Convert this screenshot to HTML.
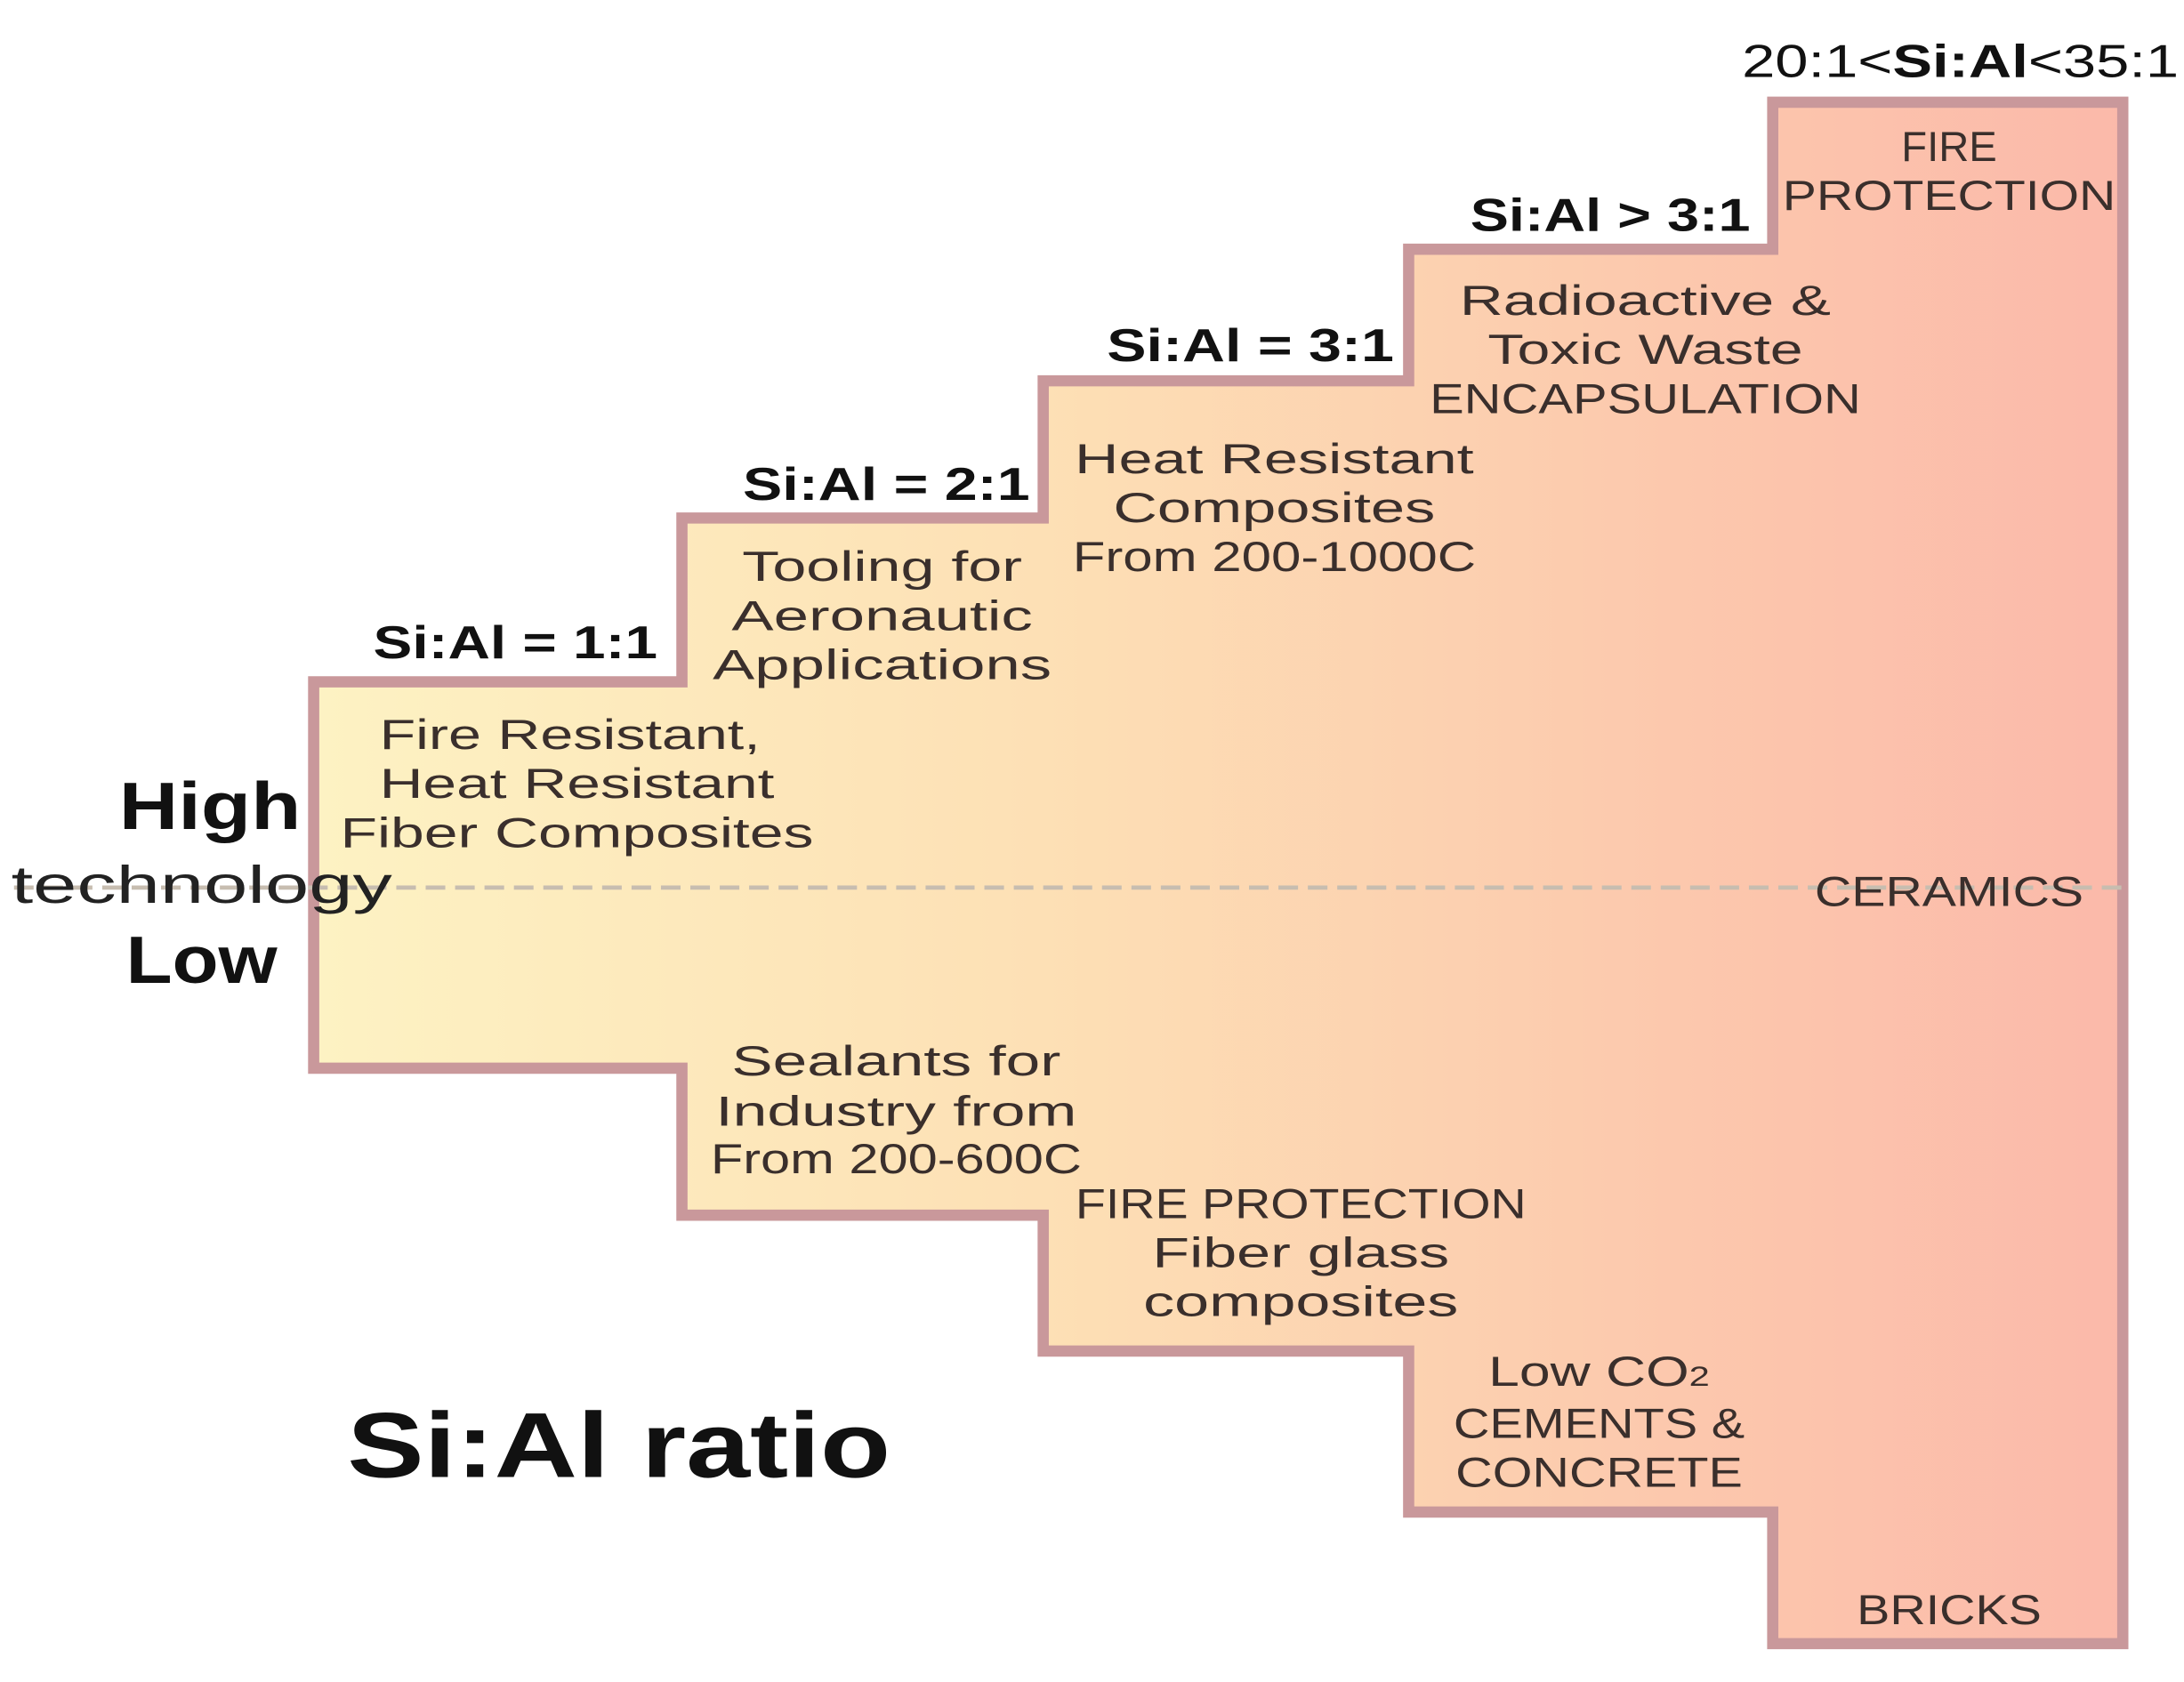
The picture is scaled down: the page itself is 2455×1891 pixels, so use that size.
<!DOCTYPE html>
<html><head><meta charset="utf-8"><style>
html,body{margin:0;padding:0;background:#fff;}
svg{display:block;}
text{font-family:"Liberation Sans",sans-serif;}
.b{fill:#3a2f2c;font-size:30px;text-anchor:middle;}
.l{fill:#111;font-size:33px;font-weight:bold;text-anchor:middle;}
</style></head><body>
<svg width="2455" height="1891" viewBox="0 0 1559.7 1201.4" xmlns="http://www.w3.org/2000/svg">
<defs>
<linearGradient id="g" x1="225" y1="0" x2="1518" y2="0" gradientUnits="userSpaceOnUse">
<stop offset="0" stop-color="#fdf2c3"/>
<stop offset="0.4" stop-color="#fde0b5"/>
<stop offset="0.75" stop-color="#fcc8ad"/>
<stop offset="1" stop-color="#fbb9aa"/>
</linearGradient>
</defs>
<polygon points="224,487 487,487 487,370 745,370 745,272 1006,272 1006,178 1266,178 1266,73 1516,73 1516,1174 1266,1174 1266,1080 1006,1080 1006,965 745,965 745,868 487,868 487,763 224,763" fill="url(#g)" stroke="#c9989b" stroke-width="8"/>
<line x1="10" y1="634" x2="1516" y2="634" stroke="#c7bdb0" stroke-width="3" stroke-dasharray="14,7"/>

<text x="1400" y="55" style="font-size:33px;fill:#111;text-anchor:middle" textLength="312" lengthAdjust="spacingAndGlyphs">20:1&lt;<tspan font-weight="bold">Si:Al</tspan>&lt;35:1</text>
<text class="l" x="1150" y="165" textLength="200" lengthAdjust="spacingAndGlyphs">Si:Al &gt; 3:1</text>
<text class="l" x="893" y="258" textLength="205" lengthAdjust="spacingAndGlyphs">Si:Al = 3:1</text>
<text class="l" x="633" y="357" textLength="205" lengthAdjust="spacingAndGlyphs">Si:Al = 2:1</text>
<text class="l" x="368" y="470" textLength="203" lengthAdjust="spacingAndGlyphs">Si:Al = 1:1</text>

<text class="b" x="1392" y="115">FIRE</text>
<text class="b" x="1392" y="150" textLength="238" lengthAdjust="spacingAndGlyphs">PROTECTION</text>
<text class="b" x="1175" y="225" textLength="265" lengthAdjust="spacingAndGlyphs">Radioactive &amp;</text>
<text class="b" x="1175" y="260" textLength="225" lengthAdjust="spacingAndGlyphs">Toxic Waste</text>
<text class="b" x="1175" y="295" textLength="308" lengthAdjust="spacingAndGlyphs">ENCAPSULATION</text>
<text class="b" x="910" y="338" textLength="285" lengthAdjust="spacingAndGlyphs">Heat Resistant</text>
<text class="b" x="910" y="373" textLength="230" lengthAdjust="spacingAndGlyphs">Composites</text>
<text class="b" x="910" y="408" textLength="288" lengthAdjust="spacingAndGlyphs">From 200-1000C</text>
<text class="b" x="630" y="415" textLength="200" lengthAdjust="spacingAndGlyphs">Tooling for</text>
<text class="b" x="630" y="450" textLength="215" lengthAdjust="spacingAndGlyphs">Aeronautic</text>
<text class="b" x="630" y="485" textLength="242" lengthAdjust="spacingAndGlyphs">Applications</text>
<text class="b" x="407" y="535" textLength="272" lengthAdjust="spacingAndGlyphs">Fire Resistant,</text>
<text class="b" x="412" y="570" textLength="282" lengthAdjust="spacingAndGlyphs">Heat Resistant</text>
<text class="b" x="412" y="605" textLength="338" lengthAdjust="spacingAndGlyphs">Fiber Composites</text>

<text x="150" y="592" style="font-size:48px;font-weight:bold;fill:#111;text-anchor:middle" textLength="130" lengthAdjust="spacingAndGlyphs">High</text>
<text x="144" y="645" style="font-size:38px;fill:#222;text-anchor:middle" textLength="272" lengthAdjust="spacingAndGlyphs">technology</text>
<text x="144" y="702" style="font-size:48px;font-weight:bold;fill:#111;text-anchor:middle" textLength="108" lengthAdjust="spacingAndGlyphs">Low</text>

<text class="b" x="1392" y="647" textLength="192" lengthAdjust="spacingAndGlyphs">CERAMICS</text>
<text class="b" x="640" y="768" textLength="235" lengthAdjust="spacingAndGlyphs">Sealants for</text>
<text class="b" x="640" y="804" textLength="258" lengthAdjust="spacingAndGlyphs">Industry from</text>
<text class="b" x="640" y="838" textLength="265" lengthAdjust="spacingAndGlyphs">From 200-600C</text>
<text class="b" x="929" y="870" textLength="322" lengthAdjust="spacingAndGlyphs">FIRE PROTECTION</text>
<text class="b" x="929" y="905" textLength="212" lengthAdjust="spacingAndGlyphs">Fiber glass</text>
<text class="b" x="929" y="940" textLength="225" lengthAdjust="spacingAndGlyphs">composites</text>
<text class="b" x="1142" y="990" textLength="158" lengthAdjust="spacingAndGlyphs">Low CO<tspan style="font-size:20px">2</tspan></text>
<text class="b" x="1142" y="1027" textLength="208" lengthAdjust="spacingAndGlyphs">CEMENTS &amp;</text>
<text class="b" x="1142" y="1062" textLength="205" lengthAdjust="spacingAndGlyphs">CONCRETE</text>
<text class="b" x="1392" y="1160" textLength="132" lengthAdjust="spacingAndGlyphs">BRICKS</text>

<text x="442" y="1055" style="font-size:66px;font-weight:bold;fill:#111;text-anchor:middle" textLength="388" lengthAdjust="spacingAndGlyphs">Si:Al ratio</text>
</svg>
</body></html>
